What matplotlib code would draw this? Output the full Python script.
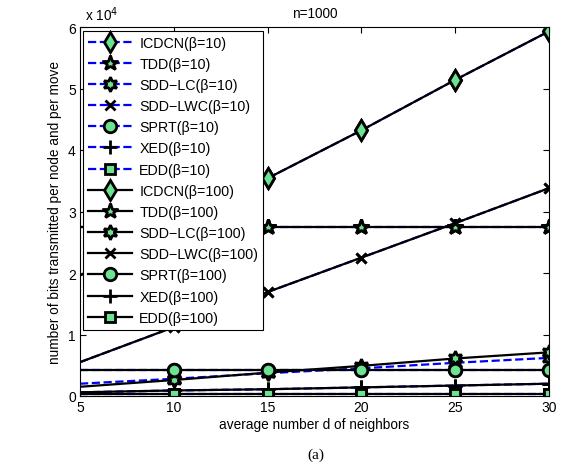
import matplotlib
matplotlib.use("Agg")
import matplotlib.pyplot as plt
from matplotlib.ticker import FuncFormatter

plt.rcParams['font.family'] = ['Liberation Sans', 'DejaVu Sans']

# ─── Data (bits transmitted per node and per move) ──────────────────────────────
d = [5, 10, 15, 20, 25, 30]

icdcn_10 = [19600, 27400, 35400, 43200, 51400, 59300]
tdd_10 = [27500, 27500, 27500, 27500, 27500, 27500]
sddlc_10 = [2000, 2800, 3700, 4500, 5400, 6200]
sddlwc_10 = [5500, 11200, 16900, 22500, 28100, 33800]
sprt_10 = [4200, 4200, 4200, 4200, 4200, 4200]
xed_10 = [600, 900, 1100, 1400, 1700, 2000]
edd_10 = [300, 300, 300, 300, 300, 300]

icdcn_100 = [19600, 27400, 35400, 43200, 51400, 59300]
tdd_100 = [27500, 27500, 27500, 27500, 27500, 27500]
sddlc_100 = [1500, 2600, 3800, 4900, 6100, 7100]
sddlwc_100 = [5500, 11200, 16900, 22500, 28100, 33800]
sprt_100 = [4200, 4200, 4200, 4200, 4200, 4200]
xed_100 = [600, 900, 1100, 1400, 1700, 2000]
edd_100 = [300, 300, 300, 300, 300, 300]

names = ['ICDCN', 'TDD', 'SDD−LC', 'SDD−LWC', 'SPRT', 'XED', 'EDD']
series_10 = [icdcn_10, tdd_10, sddlc_10, sddlwc_10, sprt_10, xed_10, edd_10]
series_100 = [icdcn_100, tdd_100, sddlc_100, sddlwc_100, sprt_100, xed_100, edd_100]

# marker, size
markers = [('d', 10), ('*', 11.5), ((6, 1, 0), 10.5), ('x', 6.5), ('o', 9), ('+', 10), ('s', 7)]
GREEN = '#6be391'

fig = plt.figure(figsize=(5.61, 4.64), dpi=100)
ax = fig.add_axes([80/561, 67/464, 469/561, 369/464])

handles = []
for beta, group, color, ls in [(10, series_10, '#0000ff', '--'),
                               (100, series_100, 'black', '-')]:
    for name, vals, (mk, ms) in zip(names, group, markers):
        h, = ax.plot(d, vals, color=color, ls=ls, lw=1.6,
                     marker=mk, ms=ms, mfc=GREEN, mec='black', mew=2.0,
                     markevery=slice(1, None), label=f'{name}(β={beta})')
        handles.append(h)

ax.set_xlim(5, 30)
ax.set_ylim(0, 60000)
ax.set_xticks([5, 10, 15, 20, 25, 30])
ax.set_yticks(range(0, 60001, 10000))
ax.yaxis.set_major_formatter(FuncFormatter(lambda v, p: f'{v/1e4:g}'))
ax.tick_params(direction='in', top=True, right=True, length=4, labelsize=10, pad=3)
for s in ax.spines.values():
    s.set_linewidth(0.8)

ax.set_xlabel('average number d of neighbors', fontsize=9.8, labelpad=2)
ax.set_ylabel('number of bits transmitted per node and per move', fontsize=9.8, labelpad=4)
ax.set_title('n=1000', fontsize=9.8, pad=7)
ax.text(0.01, 1.012, r'x 10$^4$', transform=ax.transAxes, fontsize=9.8, va='bottom', ha='left')

leg = ax.legend(handles=handles, loc='upper left', bbox_to_anchor=(0.006, 0.99),
                borderaxespad=0, fontsize=10.3, handlelength=3.1, handletextpad=0.5,
                labelspacing=0.5, borderpad=0.35, fancybox=False, framealpha=1,
                edgecolor='black')
leg.get_frame().set_linewidth(0.8)

fig.text(316/561, 1 - 455/464, '(a)', fontsize=11, family='Liberation Serif',
         ha='center', va='center')

fig.savefig('out.png', dpi=100)
